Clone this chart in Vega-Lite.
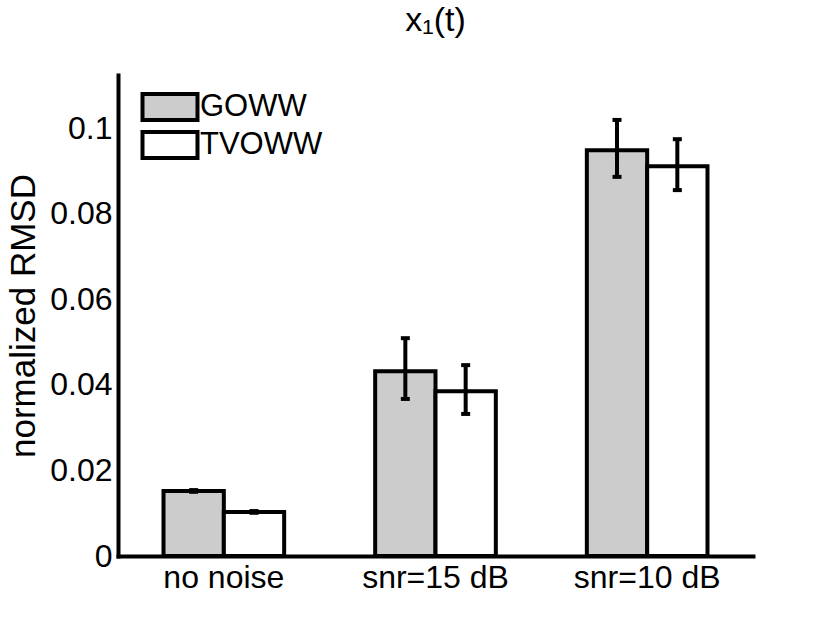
{
  "$schema": "https://vega.github.io/schema/vega-lite/v6.json",
  "width": 635,
  "height": 481,
  "autosize": {"type": "none"},
  "padding": {"left": 118, "top": 75, "right": 77, "bottom": 68},
  "background": "white",
  "title": {
    "text": "x₁(t)",
    "font": "Liberation Sans",
    "fontSize": 34,
    "fontWeight": "normal",
    "color": "black",
    "anchor": "middle",
    "baseline": "alphabetic",
    "offset": 10
  },
  "config": {
    "view": {"stroke": null},
    "axis": {
      "domainColor": "black",
      "domainWidth": 4,
      "domainCap": "square",
      "ticks": false,
      "grid": false,
      "labelFont": "Liberation Sans",
      "labelFontSize": 32,
      "labelColor": "black",
      "titleFont": "Liberation Sans",
      "titleFontSize": 35,
      "titleFontWeight": "normal",
      "titleColor": "black"
    },
    "legend": {
      "labelFont": "Liberation Sans",
      "labelFontSize": 31,
      "labelColor": "black"
    }
  },
  "data": {
    "values": [
      {"cond": "no noise", "method": "GOWW", "rmsd": 0.0152, "lo": 0.0150, "hi": 0.0154},
      {"cond": "no noise", "method": "TVOWW", "rmsd": 0.0103, "lo": 0.0101, "hi": 0.0105},
      {"cond": "snr=15 dB", "method": "GOWW", "rmsd": 0.0432, "lo": 0.0367, "hi": 0.0509},
      {"cond": "snr=15 dB", "method": "TVOWW", "rmsd": 0.0385, "lo": 0.0332, "hi": 0.0446},
      {"cond": "snr=10 dB", "method": "GOWW", "rmsd": 0.0948, "lo": 0.0886, "hi": 0.1019},
      {"cond": "snr=10 dB", "method": "TVOWW", "rmsd": 0.0911, "lo": 0.0855, "hi": 0.0974}
    ]
  },
  "encoding": {
    "x": {
      "field": "cond",
      "type": "nominal",
      "sort": ["no noise", "snr=15 dB", "snr=10 dB"],
      "scale": {"paddingInner": 0.43, "paddingOuter": 0.215},
      "axis": {"title": null, "labelAngle": 0, "labelPadding": 6}
    },
    "xOffset": {
      "field": "method",
      "type": "nominal",
      "sort": ["GOWW", "TVOWW"],
      "scale": {"paddingInner": 0, "paddingOuter": 0}
    }
  },
  "layer": [
    {
      "mark": {"type": "bar", "stroke": "black", "strokeWidth": 4, "strokeJoin": "miter"},
      "encoding": {
        "y": {
          "field": "rmsd",
          "type": "quantitative",
          "scale": {"domain": [0, 0.1124], "nice": false},
          "axis": {
            "title": "normalized RMSD",
            "values": [0, 0.02, 0.04, 0.06, 0.08, 0.1],
            "format": "~g",
            "labelPadding": 6,
            "titlePadding": 8
          }
        },
        "color": {
          "field": "method",
          "type": "nominal",
          "scale": {"domain": ["GOWW", "TVOWW"], "range": ["#cccccc", "#ffffff"]},
          "legend": {
            "title": null,
            "orient": "none",
            "legendX": 36,
            "legendY": 16,
            "padding": 0,
            "symbolType": "M-2,-0.945H2V0.945H-2Z",
            "symbolSize": 756,
            "symbolStrokeColor": "black",
            "symbolStrokeWidth": 4,
            "symbolOpacity": 1,
            "labelOffset": 14,
            "rowPadding": -4
          }
        }
      }
    },
    {
      "mark": {"type": "rule", "color": "black", "strokeWidth": 4},
      "encoding": {
        "y": {"field": "lo", "type": "quantitative"},
        "y2": {"field": "hi"}
      }
    },
    {
      "mark": {"type": "tick", "color": "black", "thickness": 4, "size": 9, "opacity": 1},
      "encoding": {"y": {"field": "lo", "type": "quantitative"}}
    },
    {
      "mark": {"type": "tick", "color": "black", "thickness": 4, "size": 9, "opacity": 1},
      "encoding": {"y": {"field": "hi", "type": "quantitative"}}
    }
  ]
}
